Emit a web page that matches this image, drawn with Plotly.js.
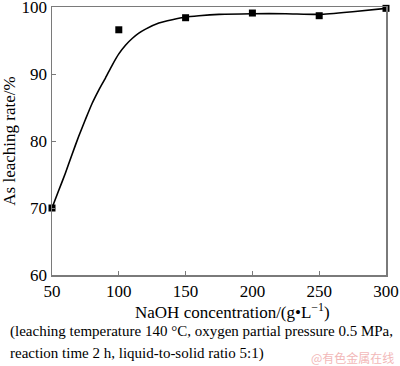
<!DOCTYPE html>
<html>
<head>
<meta charset="utf-8">
<script src="https://cdn.plot.ly/plotly-3.0.1.min.js"></script>
<style>html,body{margin:0;padding:0;background:#fff;}#chart{width:400px;height:366px;}</style>
</head>
<body>
<div id="chart"></div>
<script>
// measured points
const naoh = [50, 100, 150, 200, 250, 300];
const leachRate = [70, 96.6, 98.4, 99.1, 98.7, 99.8];
// fitted curve
const fitX = [50, 55, 60, 65, 70, 75, 80, 85, 90, 95, 100, 105, 110, 115, 120, 130, 140, 150, 160, 175, 200, 225, 250, 275, 300];
const fitY = [70, 72.6, 75.2, 78.0, 80.7, 83.2, 85.6, 87.6, 89.4, 91.3, 93.0, 94.3, 95.3, 96.1, 96.7, 97.6, 98.1, 98.5, 98.7, 98.9, 99.0, 99.0, 98.9, 99.3, 99.8];
const xTicks = [50, 100, 150, 200, 250, 300];
const yTicks = [60, 70, 80, 90, 100];
const xTitle = 'NaOH concentration/(g•L<sup>−1</sup>)';
const yTitle = 'As leaching rate/%';
const caption1 = '(leaching temperature 140 °C, oxygen partial pressure 0.5 MPa,';
const caption2 = 'reaction time 2 h, liquid-to-solid ratio 5:1)';
const watermark = '@有色金属在线';

const font = 'Liberation Serif, Times New Roman, serif';
const axisCol = '#7a7a7a';

const traces = [
  {x: fitX, y: fitY, mode: 'lines', line: {color: '#000', width: 1.6, shape: 'spline', smoothing: 0.6}, hoverinfo: 'skip'},
  {x: naoh, y: leachRate, mode: 'markers', marker: {symbol: 'square', size: 7, color: '#000'}, cliponaxis: false}
];

const layout = {
  width: 400, height: 366,
  margin: {l: 52, r: 14, t: 7, b: 91},
  paper_bgcolor: '#fff', plot_bgcolor: '#fff',
  showlegend: false,
  font: {family: font, color: '#000', size: 17},
  xaxis: {
    range: [50, 300], tickvals: xTicks, ticktext: xTicks.map(String),
    showgrid: false, zeroline: false,
    showline: true, linecolor: axisCol, linewidth: 1.5, mirror: true,
    ticks: 'inside', ticklen: 4, tickcolor: axisCol, tickwidth: 1,
    ticklabeloverflow: 'allow',
    tickfont: {family: font, size: 17, color: '#000'}
  },
  yaxis: {
    range: [60, 100], tickvals: yTicks, ticktext: yTicks.map(String),
    showgrid: false, zeroline: false,
    showline: true, linecolor: axisCol, linewidth: 1.5, mirror: true,
    ticks: 'inside', ticklen: 4, tickcolor: axisCol, tickwidth: 1,
    ticklabeloverflow: 'allow',
    tickfont: {family: font, size: 17, color: '#000'},
    title: {text: yTitle, font: {family: font, size: 17, color: '#000'}, standoff: 8}
  },
  annotations: [
    {text: xTitle, xref: 'paper', yref: 'paper', x: 0.54, y: -0.085, xanchor: 'center', yanchor: 'top', showarrow: false, font: {family: font, size: 17, color: '#000'}},
    {text: caption1, xref: 'paper', yref: 'paper', x: -0.132, y: -0.172, xanchor: 'left', yanchor: 'top', showarrow: false, font: {family: font, size: 15, color: '#000'}},
    {text: caption2, xref: 'paper', yref: 'paper', x: -0.132, y: -0.254, xanchor: 'left', yanchor: 'top', showarrow: false, font: {family: font, size: 15, color: '#000'}},
    {text: watermark, xref: 'paper', yref: 'paper', x: 1.03, y: -0.268, xanchor: 'right', yanchor: 'top', showarrow: false, font: {family: 'Noto Sans CJK SC, sans-serif', size: 12, color: '#f2b8b8'}}
  ]
};

Plotly.newPlot('chart', traces, layout, {displayModeBar: false, staticPlot: true});
</script>
</body>
</html>
